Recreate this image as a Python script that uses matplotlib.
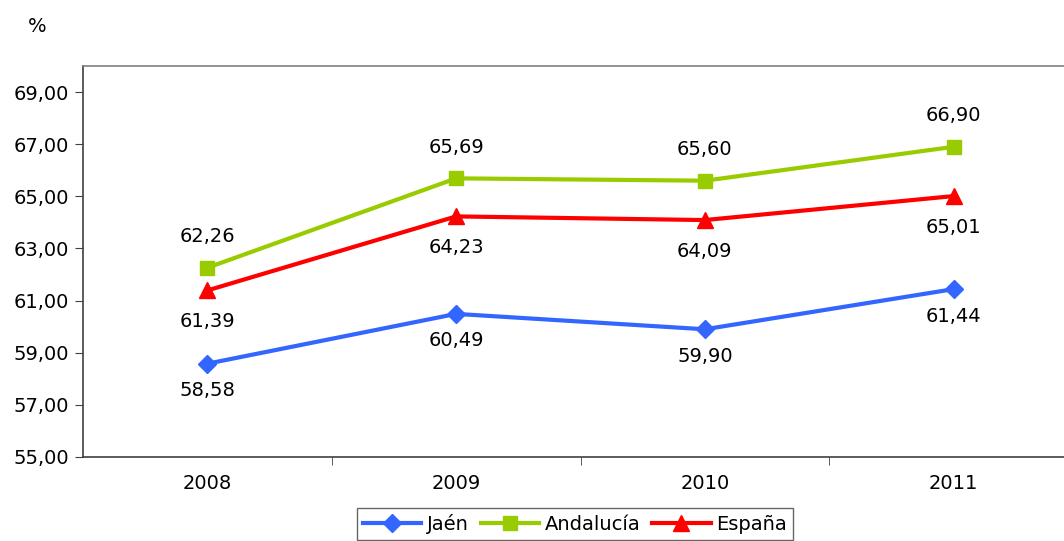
import matplotlib
matplotlib.use("Agg")
import matplotlib.pyplot as plt
from matplotlib.ticker import FixedLocator

years = ["2008", "2009", "2010", "2011"]
jaen = [58.58, 60.49, 59.90, 61.44]
andalucia = [62.26, 65.69, 65.60, 66.90]
espana = [61.39, 64.23, 64.09, 65.01]
yticks = [55, 57, 59, 61, 63, 65, 67, 69]

plt.rcParams['font.family'] = ['DejaVu Sans']
fig = plt.figure(figsize=(10.64, 5.41), dpi=100)
ax = fig.add_axes([83/1064, 1-457/541, (1078-83)/1064, (457-66)/541])

x = list(range(len(years)))
ax.plot(x, jaen, color="#3366FF", lw=3, marker="D", ms=9, label="Jaén")
ax.plot(x, andalucia, color="#99CC00", lw=3, marker="s", ms=10, label="Andalucía")
ax.plot(x, espana, color="#FF0000", lw=3, marker="^", ms=11, label="España")

fs = 14
def fmt(v):
    return f"{v:.2f}".replace(".", ",")
for i, v in enumerate(jaen):
    ax.annotate(fmt(v), (i, v), xytext=(0, -27), textcoords="offset pixels", ha="center", va="center", fontsize=fs)
for i, v in enumerate(andalucia):
    ax.annotate(fmt(v), (i, v), xytext=(0, 31), textcoords="offset pixels", ha="center", va="center", fontsize=fs)
for i, v in enumerate(espana):
    ax.annotate(fmt(v), (i, v), xytext=(0, -31), textcoords="offset pixels", ha="center", va="center", fontsize=fs)

ax.set_xlim(-0.5, 3.5)
ax.set_ylim(55, 70)
ax.set_yticks(yticks)
ax.set_yticklabels([fmt(t) for t in yticks], fontsize=fs)
ax.set_xticks(x)
ax.set_xticklabels(years, fontsize=fs)
ax.tick_params(axis="x", which="major", length=0, pad=12)
ax.xaxis.set_minor_locator(FixedLocator([0.5, 1.5, 2.5]))
ax.tick_params(axis="x", which="minor", length=6, color="#404040")
ax.tick_params(axis="y", length=6, color="#404040", pad=4)
for s in ["left", "bottom"]:
    ax.spines[s].set_color("#404040")
    ax.spines[s].set_linewidth(1.2)
ax.spines["top"].set_color("#808080")
ax.spines["top"].set_linewidth(1.2)
ax.spines["right"].set_visible(False)

fig.text(37/1064, 1-27/541, "%", ha="center", va="center", fontsize=fs)

leg = fig.legend(loc="center", bbox_to_anchor=(575/1064, 1-524/541), ncol=3, fontsize=fs,
                 frameon=True, fancybox=False, edgecolor="#404040", handlelength=3,
                 handletextpad=0.3, columnspacing=0.6, borderpad=0.3)
leg.get_frame().set_linewidth(1.0)

fig.savefig("out.png", dpi=100)
